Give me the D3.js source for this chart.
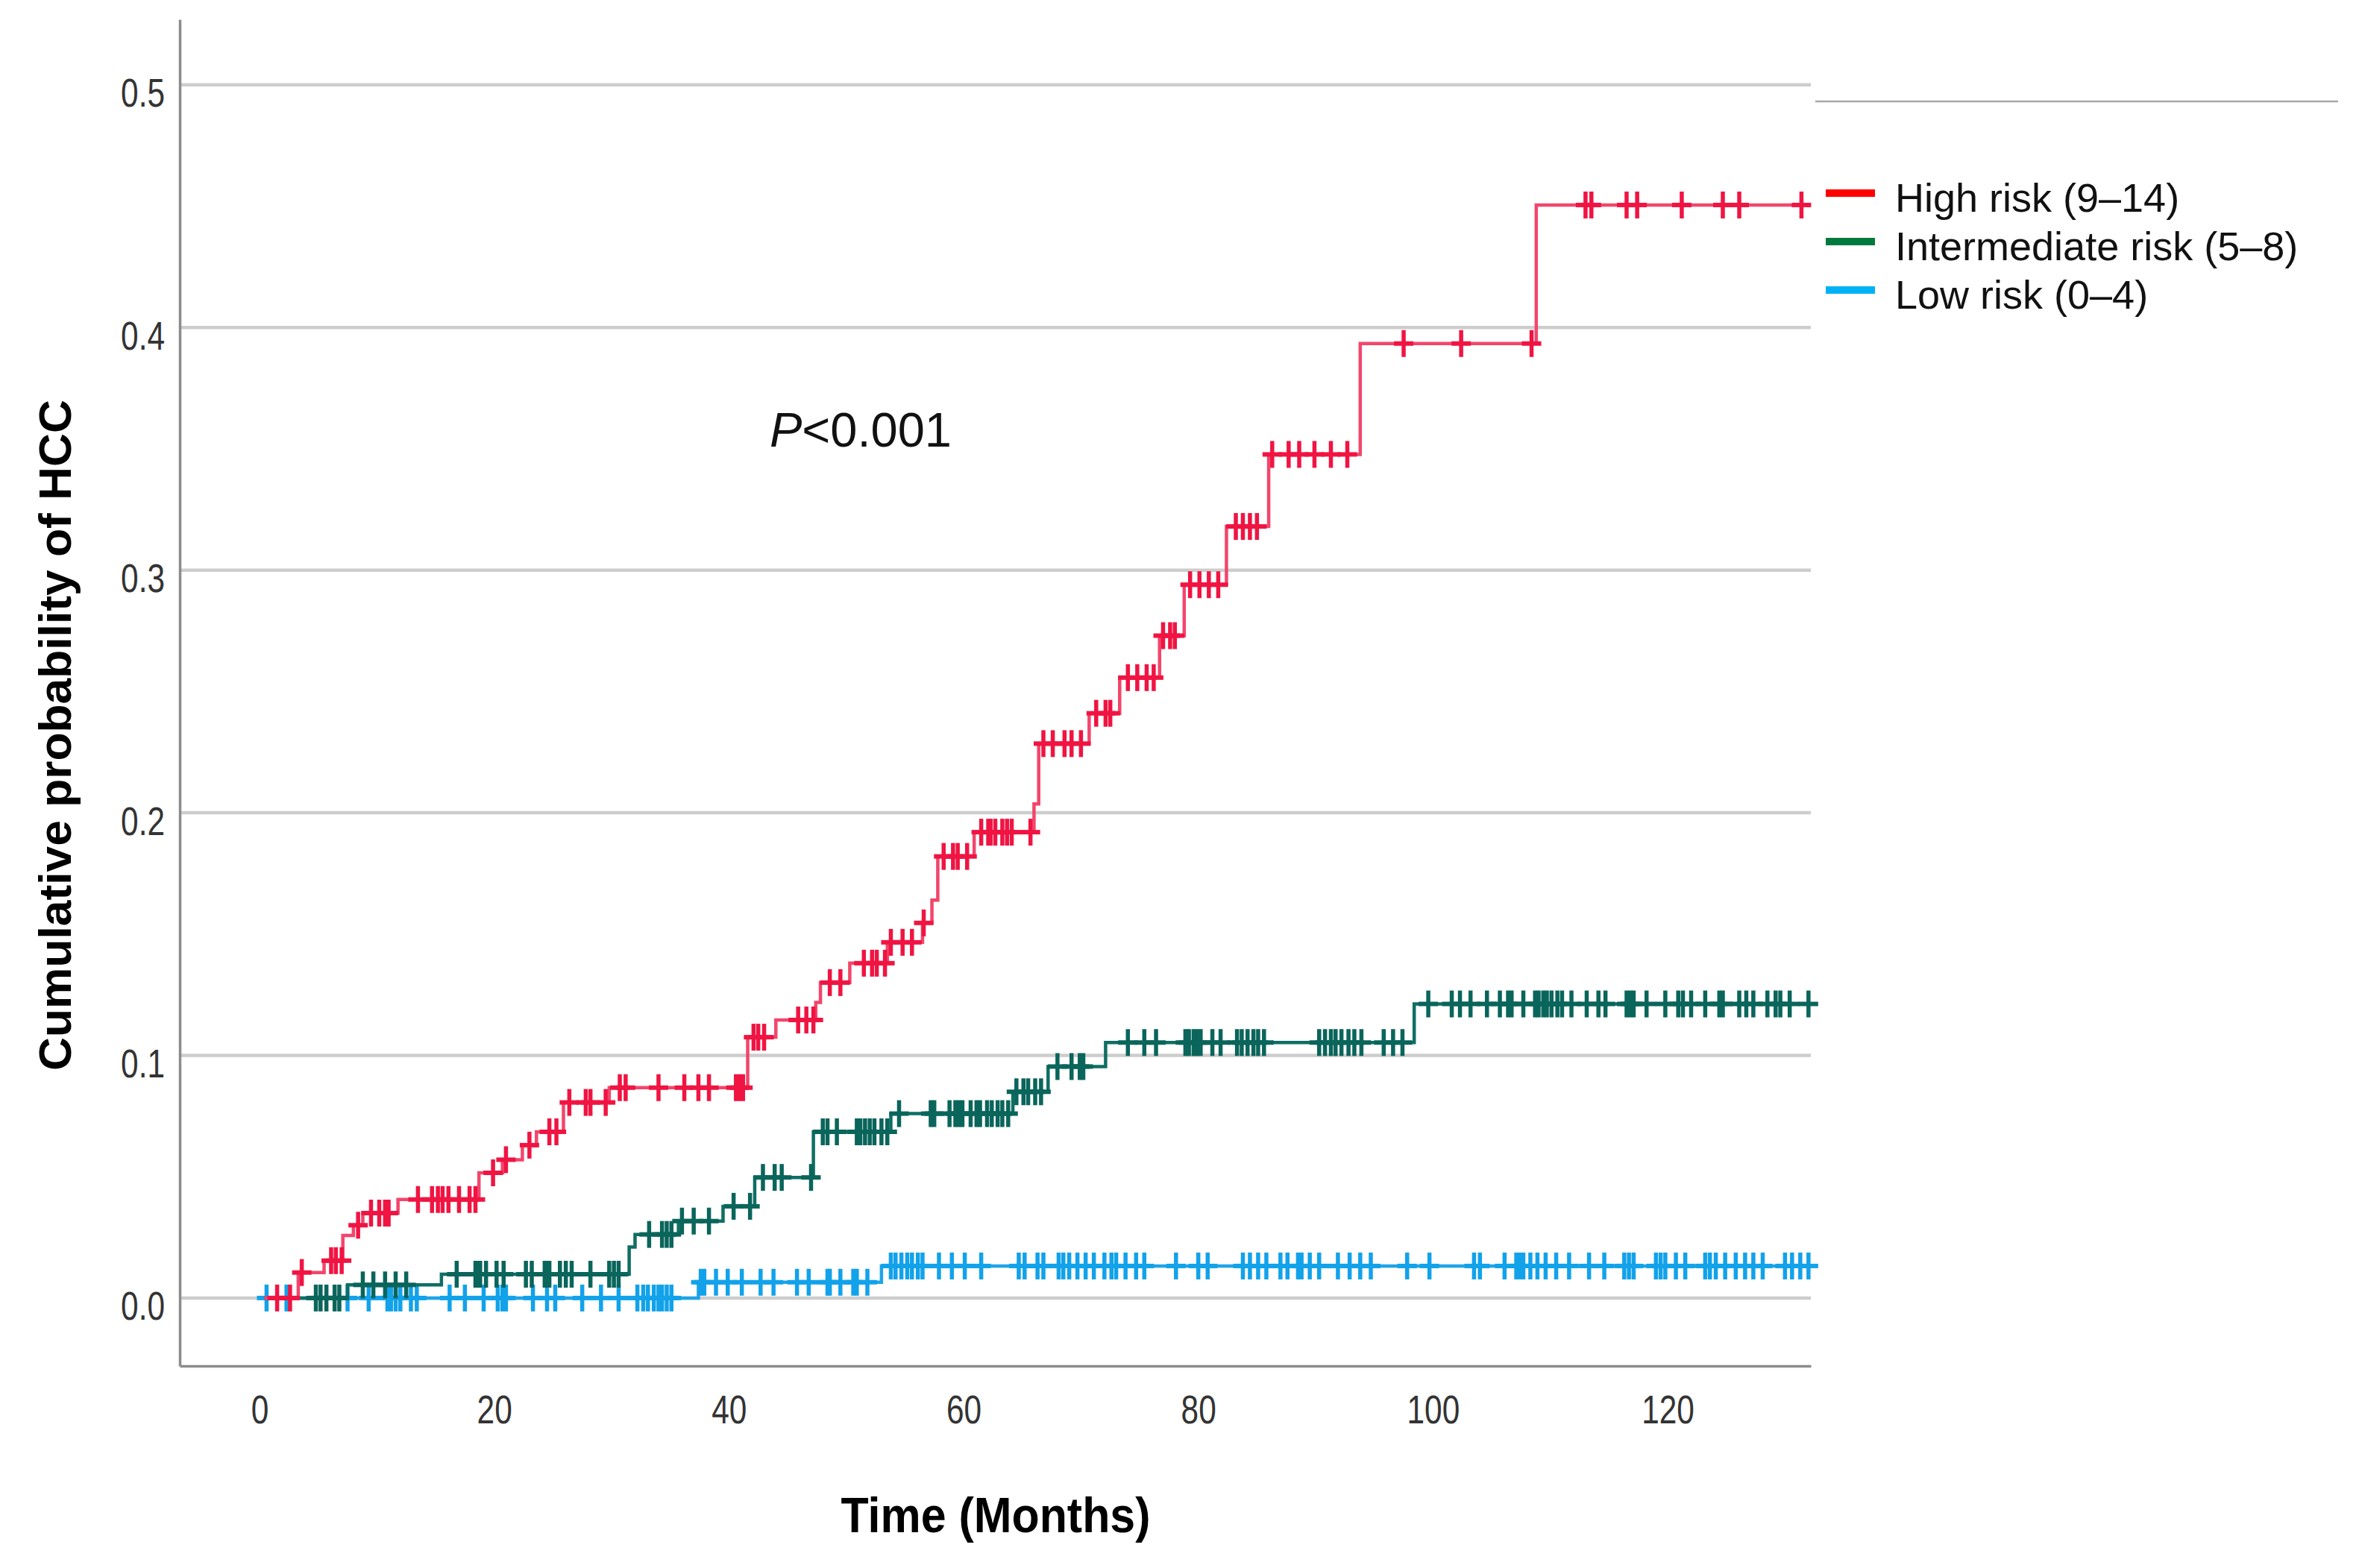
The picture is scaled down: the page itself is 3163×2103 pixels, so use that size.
<!DOCTYPE html>
<html>
<head>
<meta charset="utf-8">
<script src="https://cdn.jsdelivr.net/npm/d3@7"></script>
<style>
  body { margin: 0; background: #fff; }
  svg { display: block; }
</style>
</head>
<body>
<svg id="chart"></svg>
<script>
// step times (months) and cumulative probabilities
var highTimes  = [0.4, 3.3, 5.5, 7.1, 8.0, 8.8, 11.8, 18.7, 20.7, 22.4, 23.6, 25.9, 29.8, 41.6, 44.0, 47.4, 47.8, 50.3, 53.5, 56.5, 57.3, 57.8, 60.9, 66.0, 66.4, 70.7, 73.3, 76.7, 78.8, 82.4, 86.0, 93.8, 108.8];
var highValues = [0, 0.0105, 0.0154, 0.0258, 0.030, 0.035, 0.0406, 0.0516, 0.057, 0.063, 0.0685, 0.0806, 0.0867, 0.1075, 0.1146, 0.1218, 0.130, 0.138, 0.1466, 0.1546, 0.164, 0.182, 0.192, 0.2036, 0.2285, 0.241, 0.2557, 0.273, 0.294, 0.318, 0.3477, 0.3934, 0.4505];
var highCensor = [1.5, 2.6, 3.6, 6.1, 6.5, 7.0, 8.4, 9.5, 10.2, 10.7, 11.0, 13.5, 14.7, 15.2, 15.6, 16.1, 17.0, 17.9, 18.4, 19.9, 21.0, 23.0, 24.7, 25.3, 26.4, 27.8, 28.2, 29.5, 30.7, 31.2, 34.0, 36.2, 37.4, 38.3, 40.6, 40.9, 41.2, 42.1, 42.5, 43.0, 45.9, 46.6, 47.2, 48.6, 49.5, 51.5, 52.2, 52.6, 53.3, 53.8, 54.8, 55.6, 56.6, 58.3, 59.1, 59.5, 60.3, 61.5, 62.1, 62.3, 62.7, 63.3, 63.7, 64.1, 65.7, 66.8, 67.6, 68.6, 69.2, 70.0, 71.3, 72.1, 72.5, 74.0, 74.8, 75.6, 76.2, 77.0, 77.6, 78.0, 79.3, 80.1, 80.9, 81.7, 83.2, 83.8, 84.4, 85.0, 86.3, 87.7, 88.6, 89.9, 91.3, 92.7, 97.5, 102.4, 108.4, 113.0, 113.5, 116.5, 117.4, 121.2, 124.7, 126.1, 131.4];

var intTimes  = [0.4, 7.5, 15.5, 31.5, 32.0, 35.7, 39.5, 42.2, 47.2, 53.8, 64.2, 67.2, 72.1, 98.4];
var intValues = [0, 0.0054, 0.0098, 0.021, 0.0262, 0.0317, 0.0378, 0.0497, 0.0685, 0.076, 0.085, 0.0954, 0.1053, 0.1212];
var intCensor = [4.8, 5.2, 5.7, 6.4, 6.8, 8.8, 9.7, 10.7, 11.6, 12.5, 16.8, 18.4, 18.6, 18.8, 19.3, 20.2, 20.8, 22.7, 23.2, 24.3, 24.5, 24.7, 25.6, 26.1, 26.6, 28.2, 29.8, 30.2, 30.6, 33.2, 34.3, 34.7, 35.1, 36.0, 37.0, 38.3, 40.4, 41.8, 42.9, 43.9, 44.5, 47.0, 48.0, 48.4, 49.2, 50.9, 51.2, 51.6, 52.0, 52.4, 53.0, 53.5, 54.5, 57.2, 57.5, 58.8, 59.3, 59.6, 59.9, 60.6, 61.1, 61.4, 62.0, 62.4, 62.9, 63.3, 63.8, 64.5, 65.1, 65.5, 66.1, 66.6, 68.0, 69.2, 69.9, 70.2, 74.0, 75.4, 76.4, 78.9, 79.2, 79.6, 79.9, 80.2, 81.2, 81.9, 83.3, 83.7, 84.2, 84.7, 85.1, 85.6, 90.3, 90.8, 91.3, 91.7, 92.2, 92.8, 93.3, 93.9, 95.8, 96.6, 97.4, 99.6, 101.6, 102.3, 103.2, 104.6, 105.7, 106.4, 106.7, 107.7, 108.7, 109.0, 109.4, 109.7, 110.1, 110.6, 111.0, 111.8, 113.1, 114.1, 114.7, 116.5, 116.8, 117.1, 118.2, 119.8, 120.9, 121.3, 122.0, 123.2, 124.4, 124.7, 126.1, 126.7, 127.3, 128.5, 129.2, 129.6, 130.4, 132.0];

var lowTimes  = [0.4, 37.4, 53.0];
var lowValues = [0, 0.0065, 0.0132];
var lowCensor = [0.6, 2.3, 7.5, 9.3, 10.9, 11.2, 11.6, 12.0, 12.9, 13.4, 16.2, 17.5, 19.1, 20.3, 20.7, 21.0, 23.3, 24.5, 25.2, 27.5, 29.1, 30.6, 32.2, 32.7, 33.1, 33.6, 34.0, 34.3, 34.7, 35.1, 37.6, 37.9, 38.9, 39.9, 41.1, 42.7, 43.8, 45.8, 46.8, 48.4, 48.6, 49.5, 50.6, 50.9, 51.8, 53.8, 54.2, 54.7, 55.2, 55.6, 56.1, 56.5, 57.9, 59.0, 60.1, 61.5, 64.7, 65.2, 66.3, 66.8, 68.1, 68.5, 69.0, 69.7, 70.4, 71.1, 72.0, 72.6, 73.0, 73.8, 74.7, 75.4, 78.1, 80.0, 80.8, 83.8, 84.4, 85.1, 85.8, 87.0, 87.6, 88.5, 88.8, 89.5, 90.3, 91.9, 92.9, 93.8, 94.7, 97.8, 99.7, 103.5, 104.0, 106.1, 107.1, 107.4, 107.7, 108.3, 108.9, 109.6, 110.5, 111.6, 113.3, 114.6, 116.3, 116.7, 117.1, 119.0, 119.4, 119.8, 120.7, 121.5, 123.2, 123.6, 124.1, 124.9, 125.8, 126.6, 127.3, 128.1, 130.0, 130.6, 131.3, 132.0];

var legendLabels = ["High risk (9\u201314)", "Intermediate risk (5\u20138)", "Low risk (0\u20134)"];
var xTicks = [0, 20, 40, 60, 80, 100, 120];
var yTicks = [0, 0.1, 0.2, 0.3, 0.4, 0.5];

var width = 3163, height = 2103;
var svg = d3.select("#chart").attr("width", width).attr("height", height);

var x = d3.scaleLinear().domain([-6.8, 132.2]).range([241, 2428]);
var y = d3.scaleLinear().domain([-0.028, 0.527]).range([1832, 26]);

var font = "'Liberation Sans', Arial, sans-serif";

// squeeze tick labels, the original uses a narrow face
var narrow = function(sel) {
  sel.each(function() {
    var w = this.getComputedTextLength();
    d3.select(this).attr("textLength", w * 0.8).attr("lengthAdjust", "spacingAndGlyphs");
  });
};

// gridlines
svg.append("g").selectAll("line")
  .data(yTicks)
  .enter().append("line")
  .attr("x1", x.range()[0]).attr("x2", x.range()[1])
  .attr("y1", function(d){ return y(d); })
  .attr("y2", function(d){ return y(d); })
  .attr("stroke", "#cdcdcd").attr("stroke-width", 4.5);

// axes
var xAxis = svg.append("g")
  .attr("transform", "translate(0," + y.range()[0] + ")")
  .call(d3.axisBottom(x).tickValues(xTicks).tickSize(0).tickFormat(d3.format("d")));
xAxis.select(".domain").attr("stroke", "#8c8c8c").attr("stroke-width", 3.5);
xAxis.selectAll("text")
  .attr("y", 77).attr("dy", null)
  .style("font-family", font).style("font-size", "53px").attr("fill", "#333")
  .call(narrow);

var yAxis = svg.append("g")
  .attr("transform", "translate(" + x.range()[0] + ",0)")
  .call(d3.axisLeft(y).tickValues(yTicks).tickSize(0).tickFormat(d3.format(".1f")));
yAxis.select(".domain").attr("stroke", "#8c8c8c").attr("stroke-width", 3.5);
yAxis.selectAll("text")
  .attr("x", -20).attr("y", 29).attr("dy", null)
  .style("font-family", font).style("font-size", "53px").attr("fill", "#333")
  .call(narrow);

// survival-type step curves
var groups = [
  {times: lowTimes, values: lowValues, censor: lowCensor, line: "#1ea4e8", mark: "#12a2ea"},
  {times: intTimes, values: intValues, censor: intCensor, line: "#0f6e64", mark: "#0a655b"},
  {times: highTimes, values: highValues, censor: highCensor, line: "#f2466c", mark: "#f01442"}
];

var stepLine = d3.line()
  .x(function(d){ return x(d[0]); })
  .y(function(d){ return y(d[1]); })
  .curve(d3.curveStepAfter);

var valueAt = function(g, t) {
  var i = d3.bisectRight(g.times, t) - 1;
  return g.values[Math.max(i, 0)];
};

groups.forEach(function(g) {
  var pts = g.times.map(function(t, i){ return [t, g.values[i]]; });
  var last = d3.max(g.censor);
  pts.push([last, g.values[g.values.length - 1]]);

  var layer = svg.append("g");
  layer.append("path")
    .attr("d", stepLine(pts))
    .attr("fill", "none")
    .attr("stroke", g.line)
    .attr("stroke-width", 4.5);

  var marks = layer.selectAll("g.cens")
    .data(g.censor)
    .enter().append("g")
    .attr("transform", function(t){ return "translate(" + x(t) + "," + y(valueAt(g, t)) + ")"; });
  marks.append("line")
    .attr("x1", 0).attr("x2", 0).attr("y1", -18).attr("y2", 18)
    .attr("stroke", g.mark).attr("stroke-width", 5.5);
  marks.append("line")
    .attr("x1", -13).attr("x2", 13).attr("y1", 0).attr("y2", 0)
    .attr("stroke", g.mark).attr("stroke-width", 6);
});

// axis titles
svg.append("text")
  .attr("transform", "translate(95,986) rotate(-90)")
  .attr("text-anchor", "middle")
  .attr("textLength", 900).attr("lengthAdjust", "spacingAndGlyphs")
  .style("font-family", font)
  .style("font-size", "62px").style("font-weight", "bold")
  .text("Cumulative probability of HCC");

svg.append("text")
  .attr("x", 1335).attr("y", 2055)
  .attr("text-anchor", "middle")
  .attr("textLength", 415).attr("lengthAdjust", "spacingAndGlyphs")
  .style("font-family", font)
  .style("font-size", "66px").style("font-weight", "bold")
  .text("Time (Months)");

// p value
var pText = svg.append("text")
  .attr("x", 1032).attr("y", 599)
  .style("font-family", font)
  .style("font-size", "65px").attr("fill", "#111");
pText.append("tspan").style("font-style", "italic").text("P");
pText.append("tspan").text("<0.001");

// legend
svg.append("line")
  .attr("x1", 2434).attr("x2", 3135).attr("y1", 136).attr("y2", 136)
  .attr("stroke", "#a8a8a8").attr("stroke-width", 2.5);

var legendColors = ["#ff0000", "#007a3c", "#00b2f5"];
var legend = svg.append("g").selectAll("g")
  .data(legendLabels)
  .enter().append("g")
  .attr("transform", function(d, i){ return "translate(2448," + (259 + i * 65) + ")"; });
legend.append("rect")
  .attr("x", 0).attr("y", -5).attr("width", 66).attr("height", 10)
  .attr("fill", function(d, i){ return legendColors[i]; });
legend.append("text")
  .attr("x", 93).attr("y", 25)
  .style("font-family", font)
  .style("font-size", "54px").attr("fill", "#111")
  .text(function(d){ return d; });
</script>
</body>
</html>
